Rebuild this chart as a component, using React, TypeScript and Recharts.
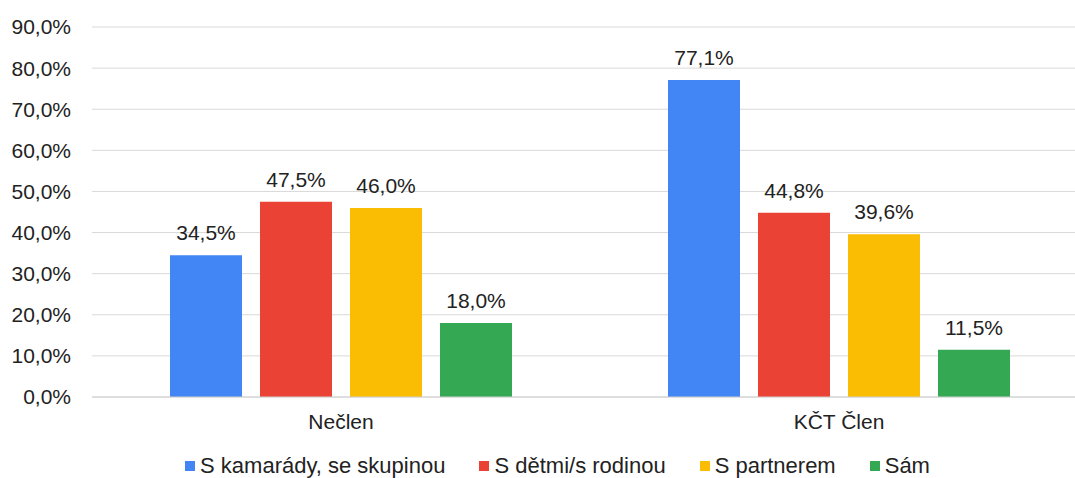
import React from 'react';
import {
  BarChart,
  Bar,
  XAxis,
  YAxis,
  CartesianGrid,
  Legend,
  LabelList
} from 'recharts';

const categories = ['Nečlen', 'KČT Člen'];
const kamaradi = [34.5, 77.1];
const rodina = [47.5, 44.8];
const partner = [46.0, 39.6];
const sam = [18.0, 11.5];
const yTicks = [0, 10, 20, 30, 40, 50, 60, 70, 80, 90];

const SERIES = [
  { key: 'kamaradi', name: 'S kamarády, se skupinou', color: '#4285F4' },
  { key: 'rodina', name: 'S dětmi/s rodinou', color: '#EA4335' },
  { key: 'partner', name: 'S partnerem', color: '#FBBC04' },
  { key: 'sam', name: 'Sám', color: '#34A853' }
];

const data = categories.map((name, i) => ({
  name,
  kamaradi: kamaradi[i],
  rodina: rodina[i],
  partner: partner[i],
  sam: sam[i]
}));

const FONT = 'Liberation Sans, Arial, sans-serif';
const pct = (v: number) => `${Number(v).toFixed(1).replace('.', ',')}%`;

const renderLegend = () => (
  <div
    style={{
      height: 51,
      boxSizing: 'border-box',
      paddingTop: 27,
      display: 'flex',
      justifyContent: 'center',
      gap: 34,
      fontFamily: FONT,
      fontSize: 22,
      lineHeight: '24px',
      color: '#222'
    }}
  >
    {SERIES.map((s) => (
      <div key={s.key} style={{ display: 'flex', alignItems: 'center', whiteSpace: 'nowrap' }}>
        <span style={{ width: 10, height: 10, background: s.color, marginRight: 5, display: 'inline-block' }} />
        <span>{s.name}</span>
      </div>
    ))}
  </div>
);

export default function App() {
  return (
    <div
      style={{
        position: 'absolute',
        left: 0,
        top: 0,
        width: 1075,
        height: 478,
        overflow: 'hidden',
        background: '#fff'
      }}
    >
      <BarChart
        width={1088}
        height={478}
        data={data}
        margin={{ top: 27, right: 0, bottom: 0, left: 0 }}
        barSize={72}
        barGap={18}
      >
        <CartesianGrid vertical={false} stroke="#d9d9d9" />
        <XAxis
          dataKey="name"
          height={30}
          tickLine={false}
          tickMargin={11}
          axisLine={{ stroke: '#d0d0d0' }}
          tick={{ fill: '#222', fontSize: 21, fontFamily: FONT }}
        />
        <YAxis
          width={92}
          domain={[0, 90]}
          ticks={yTicks}
          interval={0}
          axisLine={false}
          tickLine={false}
          tickMargin={15}
          tickFormatter={pct}
          tick={{ fill: '#222', fontSize: 21, fontFamily: FONT }}
        />
        <Legend
          verticalAlign="bottom"
          content={renderLegend}
          wrapperStyle={{ left: 0, width: 1115 }}
        />
        {SERIES.map((s) => (
          <Bar key={s.key} dataKey={s.key} name={s.name} fill={s.color} isAnimationActive={false}>
            <LabelList
              dataKey={s.key}
              position="top"
              offset={15}
              formatter={pct}
              style={{ fill: '#222', fontSize: 21, fontFamily: FONT }}
            />
          </Bar>
        ))}
      </BarChart>
    </div>
  );
}
